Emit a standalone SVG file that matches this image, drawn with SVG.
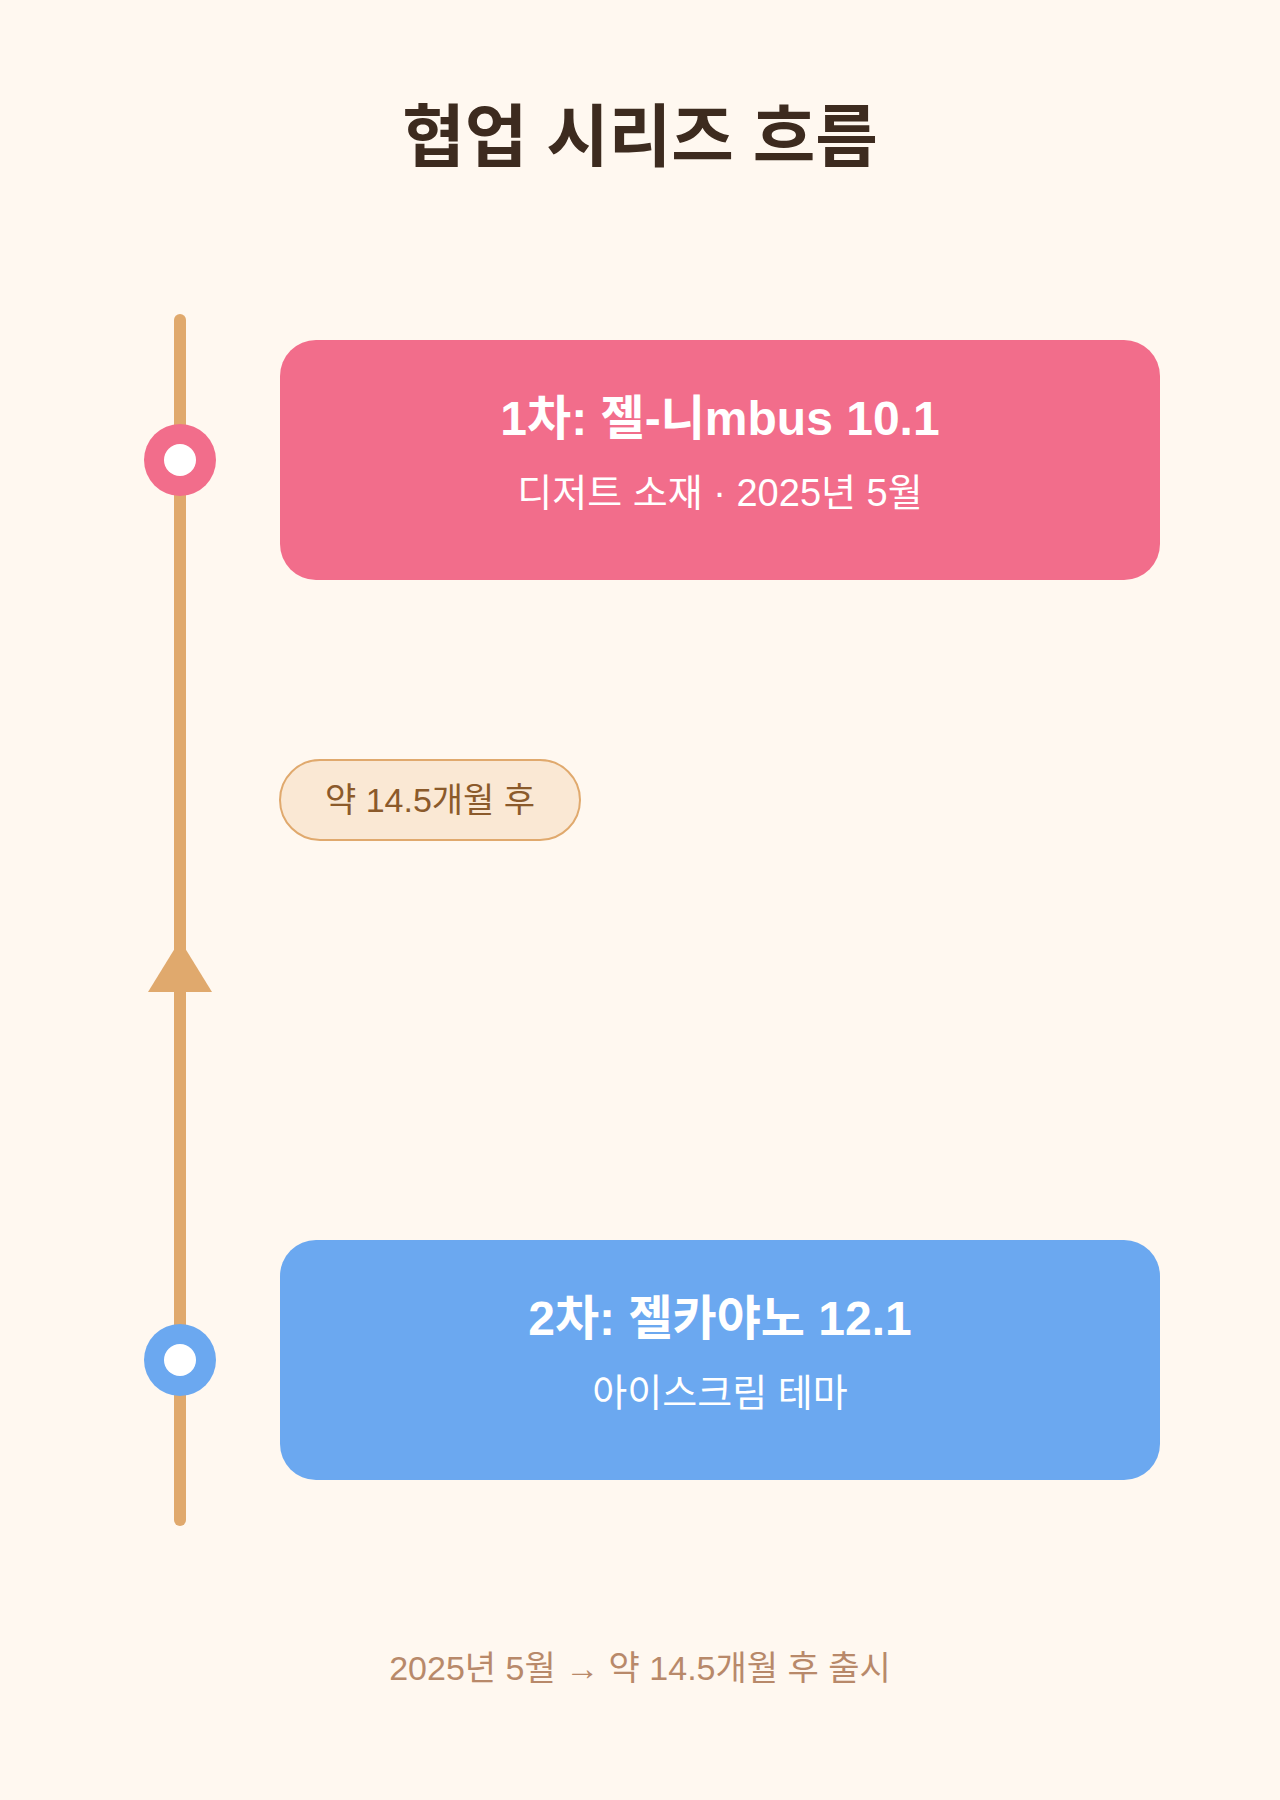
<svg xmlns="http://www.w3.org/2000/svg" width="1280" height="1800" viewBox="0 0 1280 1800">
  <style>
    text { font-family: "Liberation Sans", "Noto Sans CJK KR", sans-serif; text-anchor: middle; }
    .title { font-size: 68px; font-weight: bold; fill: #3D2B1F; }
    .card-title { font-size: 48px; font-weight: bold; fill: #FFFFFF; }
    .card-sub { font-size: 38px; fill: #FFFFFF; }
    .pill-text { font-size: 34px; fill: #8B5A2B; }
    .footer { font-size: 34px; fill: #B8896A; }
    .ring-inner { fill: #FFFFFF; }
  </style>
  <rect x="0" y="0" width="1280" height="1800" fill="#FFF8F0"/>
  <text class="title" x="640" y="161">협업 시리즈 흐름</text>

  <g id="connectors">
    <line x1="180" y1="320" x2="180" y2="1520" stroke="#E0A96D" stroke-width="12" stroke-linecap="round"/>
    <polygon points="180,940 148,992 212,992" fill="#E0A96D"/>
  </g>

  <g id="node-1">
    <circle cx="180" cy="460" r="36" fill="#F26D8B"/>
    <circle class="ring-inner" cx="180" cy="460" r="16"/>
    <rect x="280" y="340" width="880" height="240" rx="36" fill="#F26D8B"/>
    <text class="card-title" x="720" y="435">1차: 젤-니mbus 10.1</text>
    <text class="card-sub" x="720" y="506">디저트 소재 · 2025년 5월</text>
  </g>

  <g id="gap-label">
    <rect x="280" y="760" width="300" height="80" rx="40" fill="#FAE8D4" stroke="#E0A96D" stroke-width="2"/>
    <text class="pill-text" x="430" y="812">약 14.5개월 후</text>
  </g>

  <g id="node-2">
    <circle cx="180" cy="1360" r="36" fill="#6BA8F0"/>
    <circle class="ring-inner" cx="180" cy="1360" r="16"/>
    <rect x="280" y="1240" width="880" height="240" rx="36" fill="#6BA8F0"/>
    <text class="card-title" x="720" y="1335">2차: 젤카야노 12.1</text>
    <text class="card-sub" x="720" y="1406">아이스크림 테마</text>
  </g>

  <text class="footer" x="640" y="1680">2025년 5월 → 약 14.5개월 후 출시</text>
</svg>
